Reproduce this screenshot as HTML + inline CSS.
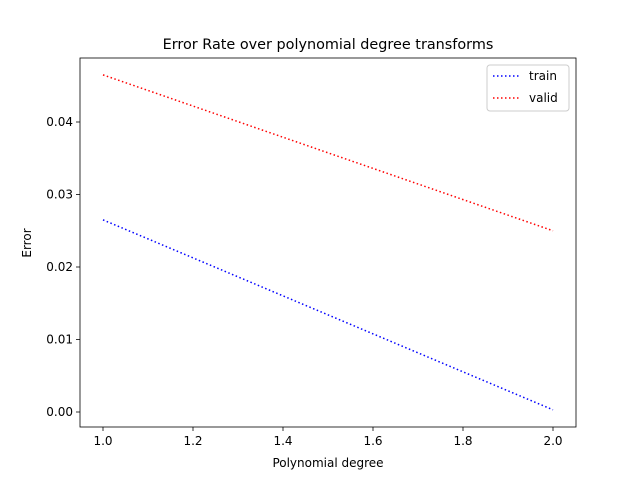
<!DOCTYPE html>
<html><head><meta charset="utf-8"><style>
body{margin:0;background:#fff}
svg text{font-family:"DejaVu Sans","Liberation Sans",sans-serif;fill:#000}
</style></head><body>
<svg id="chart" width="640" height="480" xmlns="http://www.w3.org/2000/svg"></svg>
<script>
const xValues=[1.0,2.0];
const trainValues=[0.0265,0.0003];
const validValues=[0.0465,0.025];
const xTicks=[1.0,1.2,1.4,1.6,1.8,2.0];
const yTicks=[0.00,0.01,0.02,0.03,0.04];
const svg=document.getElementById('chart');
const NS='http://www.w3.org/2000/svg';
const L=80,R=576,T=58,B=427;
const sx=v=>103+(v-1.0)*450;
const sy=v=>412-v*7250;
function mk(tag,attrs,txt){const e=document.createElementNS(NS,tag);for(const k in attrs)e.setAttribute(k,attrs[k]);if(txt!==undefined)e.textContent=txt;svg.appendChild(e);return e;}
let e;
e=mk('text',{x:328,y:49,'text-anchor':'middle','font-size':14.4},'Error Rate over polynomial degree transforms');


xTicks.forEach(t=>{
 e=mk('line',{x1:sx(t),x2:sx(t),y1:B,y2:B+4,stroke:'#000','stroke-width':0.8});
 
 
 e=mk('text',{x:sx(t),y:B+18,'text-anchor':'middle','font-size':12},t.toFixed(1));
 
 
});
yTicks.forEach(t=>{
 e=mk('line',{x1:L-4,x2:L,y1:sy(t),y2:sy(t),stroke:'#000','stroke-width':0.8});
 
 
 e=mk('text',{x:L-7,y:sy(t)+4,'text-anchor':'end','font-size':12},t.toFixed(2));
 
 
});
function series(vals,color,name){
 const pts=xValues.map((x,i)=>sx(x)+','+sy(vals[i])).join(' ');
 e=mk('polyline',{points:pts,fill:'none',stroke:color,'stroke-width':1.5,'stroke-dasharray':'1.5,2.5'});
 
 
}
series(trainValues,'#0000ff','train-line');
series(validValues,'#ff0000','valid-line');
e=mk('rect',{x:L,y:T,width:R-L,height:B-T,fill:'none',stroke:'#000','stroke-width':0.8});


e=mk('text',{x:328,y:467,'text-anchor':'middle','font-size':12},'Polynomial degree');


e=mk('text',{x:31,y:243,'text-anchor':'middle','font-size':12,transform:'rotate(-90 31 243)'},'Error');


e=mk('rect',{x:487,y:65,width:82,height:46,rx:3,fill:'#fff',stroke:'#ccc','stroke-width':1});


[['train','#0000ff',76],['valid','#ff0000',98]].forEach(([n,c,y])=>{
 e=mk('line',{x1:493,x2:521,y1:y,y2:y,stroke:c,'stroke-width':1.5,'stroke-dasharray':'1.5,2.5'});
 
 
 e=mk('text',{x:529,y:y+4,'font-size':12},n);
 
 
});
</script>
</body></html>
